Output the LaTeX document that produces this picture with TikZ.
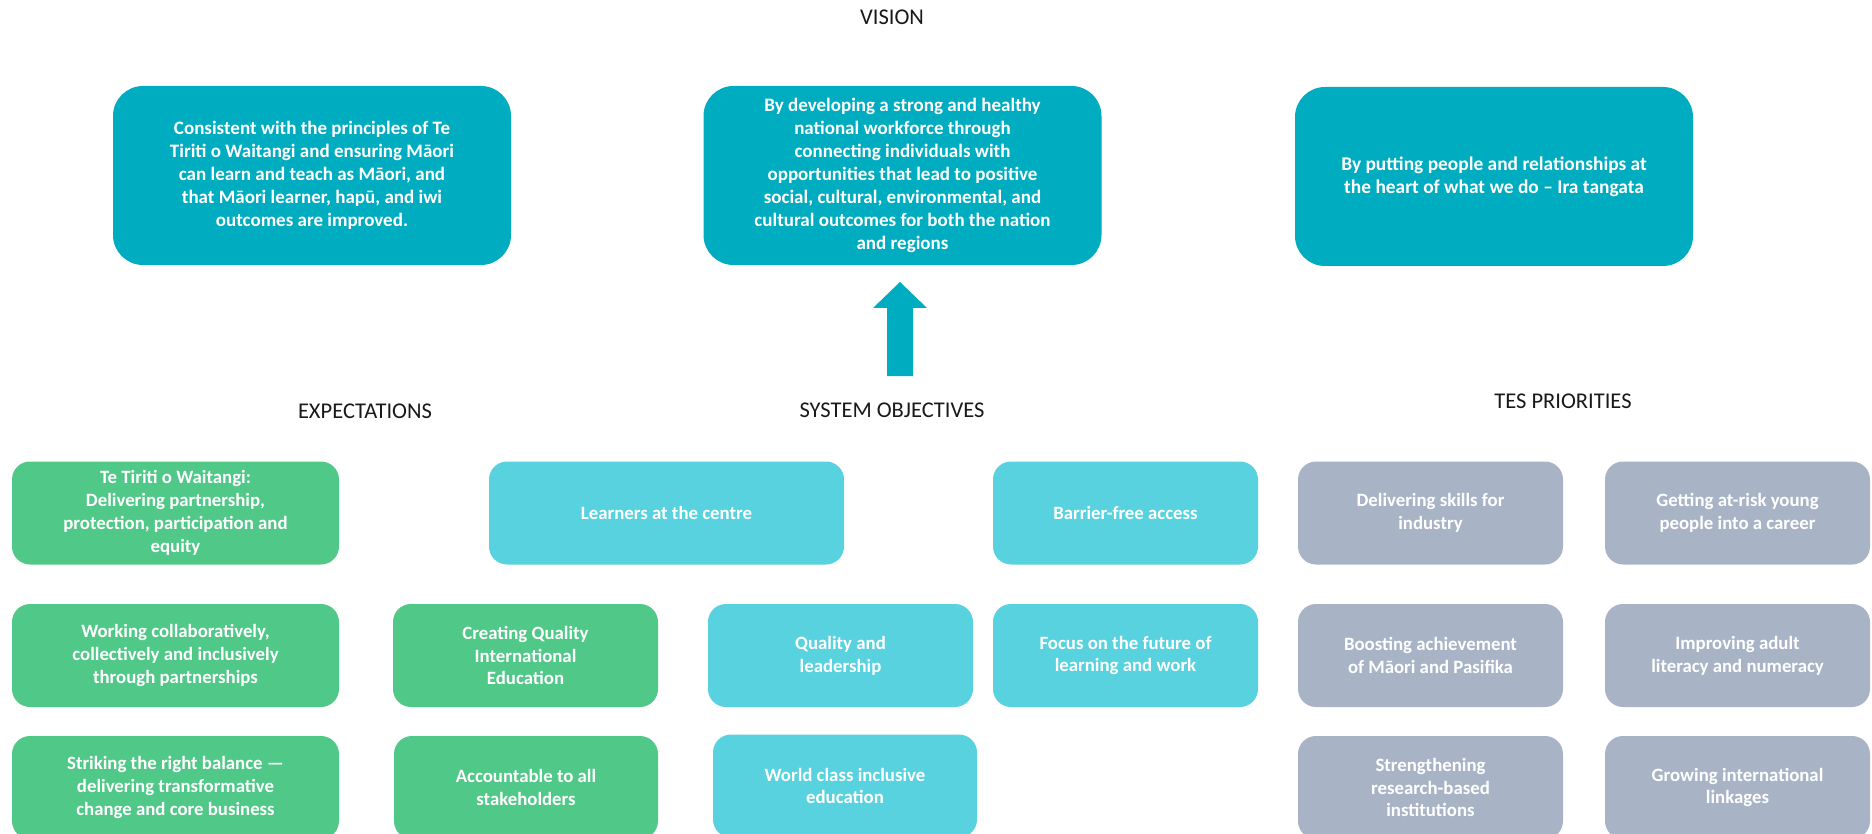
\documentclass[tikz,border=0pt]{standalone}
\usepackage{fontspec}
\setmainfont{Carlito}
\definecolor{teal1}{RGB}{0,172,191}
\definecolor{cyan1}{RGB}{88,210,222}
\definecolor{green1}{RGB}{80,200,135}
\definecolor{grey1}{RGB}{168,180,198}
\definecolor{head}{RGB}{25,25,25}
\tikzset{
  box/.style={rounded corners=18pt, inner sep=0pt, align=center, text=white,
    font=\fontsize{18.8}{22.8}\selectfont\bfseries},
  vbox/.style={box, fill=teal1, rounded corners=30pt, minimum width=398pt, minimum height=179pt,
    font=\fontsize{19}{23.1}\selectfont\bfseries},
  gbox/.style={box, fill=green1, minimum height=103pt},
  cbox/.style={box, fill=cyan1, minimum height=103pt},
  ybox/.style={box, fill=grey1, minimum height=103pt, minimum width=265pt},
  heading/.style={text=head, font=\fontsize{22.5}{27}\selectfont, inner sep=0pt}
}
\begin{document}
\begin{tikzpicture}[x=1pt,y=-1pt]
\useasboundingbox (0,0) rectangle (1872,834);
\fill[white] (0,0) rectangle (1872,834);
% headings
\node[heading] (hv) at (892,17) {VISION};
\node[heading] (he) at (365,411) {EXPECTATIONS};
\node[heading] (hs) at (892,410) {SYSTEM OBJECTIVES};
\node[heading] (ht) at (1563,401) {TES PRIORITIES};
% vision boxes
\node[vbox] (v1) at (312,175.5) {Consistent with the principles of Te\\Tiriti o Waitangi and ensuring Māori\\can learn and teach as Māori, and\\that Māori learner, hapū, and iwi\\outcomes are improved.};
\node[vbox] (v2) at (902.5,175.5) {By developing a strong and healthy\\national workforce through\\connecting individuals with\\opportunities that lead to positive\\social, cultural, environmental, and\\cultural outcomes for both the nation\\and regions};
\node[vbox, font=\fontsize{19.4}{23.1}\selectfont\bfseries] (v3) at (1494,176.5) {By putting people and relationships at\\the heart of what we do – Ira tangata};
% block arrow
\fill[teal1] (900,282) -- (927,308) -- (913,308) -- (913,376) -- (887,376) -- (887,308) -- (873,308) -- cycle;
% expectations
\node[gbox, minimum width=327pt] (e1) at (175.5,513) {Te Tiriti o Waitangi:\\Delivering partnership,\\protection, participation and\\equity};
\node[gbox, minimum width=327pt] (e2) at (175.5,655.5) {Working collaboratively,\\collectively and inclusively\\through partnerships};
\node[gbox, minimum width=327pt] (e3) at (175.5,787.5) {Striking the right balance —\\delivering transformative\\change and core business};
\node[gbox, minimum width=265pt] (e4) at (525.5,655.5) {Creating Quality\\International\\Education};
\node[gbox, minimum width=264pt] (e5) at (526,787.5) {Accountable to all\\stakeholders};
% system objectives
\node[cbox, minimum width=355pt] (s1) at (666.5,513) {Learners at the centre};
\node[cbox, minimum width=265pt] (s2) at (1125.5,513) {Barrier-free access};
\node[cbox, minimum width=265pt] (s3) at (840.5,655.5) {Quality and\\leadership};
\node[cbox, minimum width=265pt] (s4) at (1125.5,655.5) {Focus on the future of\\learning and work};
\node[cbox, minimum width=264pt] (s5) at (845,786) {World class inclusive\\education};
% TES priorities
\node[ybox] (t1) at (1430.5,513) {Delivering skills for\\industry};
\node[ybox] (t2) at (1737.5,513) {Getting at-risk young\\people into a career};
\node[ybox] (t3) at (1430.5,655.5) {Boosting achievement\\of Māori and Pasifika};
\node[ybox] (t4) at (1737.5,655.5) {Improving adult\\literacy and numeracy};
\node[ybox] (t5) at (1430.5,787.5) {Strengthening\\research-based\\institutions};
\node[ybox] (t6) at (1737.5,787.5) {Growing international\\linkages};
\end{tikzpicture}
\end{document}
